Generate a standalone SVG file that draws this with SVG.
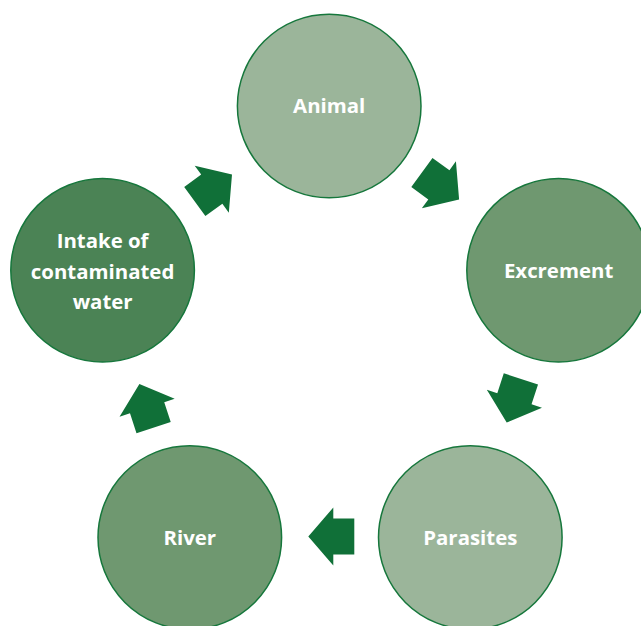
<svg xmlns="http://www.w3.org/2000/svg" width="641" height="626" viewBox="0 0 641 626">
<style>
.n{stroke:#16773c;stroke-width:1.5}
.l{fill:#9bb59a}
.m{fill:#6f9870}
.d{fill:#4b8355}
.t{font-family:"Open Sans","Liberation Sans",sans-serif;font-weight:bold;font-size:20.4px;fill:#ffffff;text-anchor:middle}
.a{fill:#107038}
</style>
<defs>
<polygon id="arr" points="-23,-18 -2,-18 -2,-29 23,0 -2,29 -2,18 -23,18"/>
</defs>
<rect width="641" height="626" fill="#ffffff"/>
<g id="connectors">
<use href="#arr" class="a" transform="translate(440.5,186) rotate(36)"/>
<use href="#arr" class="a" transform="translate(513.8,400.7) rotate(108)"/>
<use href="#arr" class="a" transform="translate(331.3,536.5) rotate(180)"/>
<use href="#arr" class="a" transform="translate(146.5,405.8) rotate(252)"/>
<use href="#arr" class="a" transform="translate(213.4,188) rotate(324)"/>
</g>
<g id="animal">
<circle class="n l" cx="329.2" cy="106" r="91.8"/>
<text class="t" x="329.2" y="113">Animal</text>
</g>
<g id="excrement">
<circle class="n m" cx="558.6" cy="270.3" r="91.8"/>
<text class="t" x="558.6" y="277.5">Excrement</text>
</g>
<g id="parasites">
<circle class="n l" cx="470.3" cy="537.5" r="91.8"/>
<text class="t" x="470.3" y="545">Parasites</text>
</g>
<g id="river">
<circle class="n m" cx="189.8" cy="537.5" r="91.8"/>
<text class="t" x="189.8" y="545">River</text>
</g>
<g id="intake">
<circle class="n d" cx="102.6" cy="270.3" r="91.8"/>
<text class="t" x="102.6" y="248">Intake of</text>
<text class="t" x="102.6" y="278.5">contaminated</text>
<text class="t" x="102.6" y="308.5">water</text>
</g>
</svg>
